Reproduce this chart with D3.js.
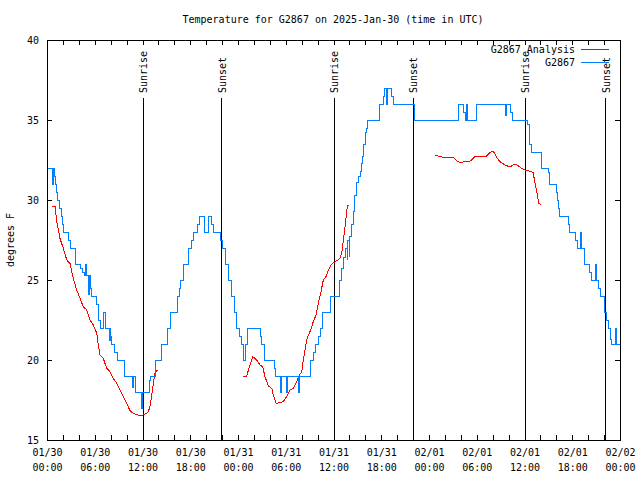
<!DOCTYPE html>
<html><head><meta charset="utf-8">
<script src="https://cdn.jsdelivr.net/npm/d3@7"></script>
<style>
html,body{margin:0;padding:0;background:#fff;}
svg{display:block;}
text{font-family:"DejaVu Sans Mono","Liberation Mono",monospace;font-size:10px;fill:#000;}
</style></head>
<body>
<svg id="chart" width="640" height="480"></svg>
<script>
// ---- data (hours since 2025-01-30 00:00 UTC, degrees F) ----
const titleText = "Temperature for G2867 on 2025-Jan-30 (time in UTC)";
const yLabelText = "degrees F";
const seriesNames = ["G2867 Analysis", "G2867"];
const yTicks = [15, 20, 25, 30, 35, 40];

const observed = [
 [0.16,32],[0.67,31],[0.79,32],[0.88,31.5],[1.07,31],[1.19,30.5],[1.32,30],[1.57,29.5],[1.76,29],[1.95,28.5],
 [2.05,28],[2.70,27.5],[2.89,27],[3.52,26.5],[3.64,26],[4.15,25.7],[4.40,25.5],[4.71,25.3],[4.84,26],[4.96,25.3],
 [5.19,24.1],[5.32,25.3],[5.49,24.5],[5.62,24],[6.25,23.5],[6.41,23],[6.53,22.5],[6.66,22],[7.07,23],[7.38,22],
 [7.83,21.2],[7.92,22],[8.04,21.5],[8.13,21],[8.54,20.5],[8.88,20],[9.80,19],[10.72,18.3],[10.89,19],[11.06,18],
 [11.90,17],[11.98,18],[12.86,18.7],[13.01,19],[13.63,20],[14.45,21],[15.20,22],[15.46,23],[16.40,24],[16.62,24.5],
 [16.80,25],[17.13,26],[17.72,26.5],[17.84,27],[18.16,27.5],[18.38,28],[18.97,28.5],[19.14,29],[19.85,28],[20.29,29],
 [20.67,28.5],[20.90,28],[21.74,27.5],[22.03,27],[22.46,26],[22.78,25],[23.21,24],[23.62,23],[23.84,22],[24.25,21.5],
 [24.47,21],[24.75,20],[24.88,21],[25.17,22],[26.85,21.5],[26.95,21],[27.27,20.5],[27.39,20],[28.53,19.5],[28.65,19],
 [29.37,18],[29.49,19],[30.12,18],[30.25,19],[31.58,18],[31.70,19],[33.05,19.7],[33.17,20],[33.46,20.5],[33.68,21],
 [34.09,21.5],[34.31,22],[34.64,23],[35.65,24],[36.73,25],[37.03,25.7],[37.23,26.4],[37.45,26.8],[37.57,27],[37.70,26.3],
 [37.82,27.5],[37.95,26.5],[38.07,27.7],[38.29,28.5],[38.49,29.3],[38.70,30.3],[38.92,31.1],[39.12,31.5],[39.33,31.8],[39.55,32.3],
 [39.65,32.7],[39.75,33.1],[39.83,33.5],[39.96,34.2],[40.09,34.5],[40.25,35],[41.84,36],[42.26,36.5],[42.47,37],[42.66,36],
 [42.79,37],[43.23,36.5],[43.52,36],[46.12,35.5],[46.24,35],[51.68,36],[52.31,35.5],[52.53,35],[52.71,36],[52.84,35],
 [54.00,36],[57.55,35.3],[57.74,36],[58.18,35.5],[58.43,35],[60.38,34.7],[60.57,34.3],[60.69,33.5],[60.91,33],[62.16,32],
 [62.96,31.7],[63.12,31],[63.96,30.5],[64.09,30],[64.25,29.5],[64.38,29],[65.53,28.5],[65.63,28],[66.47,27.5],[66.60,27],
 [67.07,28],[67.19,27],[67.52,26],[68.23,25.5],[68.36,25],[68.86,26],[69.08,25],[69.24,24.5],[69.58,24],[70.03,23],
 [70.33,22.5],[70.56,22],[70.75,21.3],[70.96,21],[71.38,22],[71.54,21],[72.0,21]
];

const analysis1 = [
 [0.67,29.58],[1.01,29.58],[1.22,28.65],[1.63,27.6],[2.05,26.98],[2.48,26.25],[2.89,26.04],[3.30,25.1],[3.73,24.38],[4.15,23.85],
 [4.56,23.33],[4.99,23.13],[5.40,22.5],[5.82,22.19],[6.25,21.67],[6.45,20.94],[6.66,20.3],[7.07,20.1],[7.50,19.48],[7.92,19.27],
 [8.33,18.85],[8.76,18.54],[9.17,18.13],[9.59,17.71],[10.02,17.29],[10.43,16.83],[10.84,16.67],[11.47,16.56],[12.10,16.56],[12.53,16.67],
 [12.75,16.8],[12.94,17.1],[13.16,17.8],[13.36,18.54],[13.57,19.17],[13.86,19.38]
];
const analysis2 = [
 [24.67,18.96],[25.09,19.0],[25.51,19.69],[25.85,20.21],[26.35,20.0],[26.77,19.69],[27.10,19.58],[27.39,18.96],[27.81,18.38],[28.24,18.23],
 [28.44,17.81],[28.78,17.29],[29.28,17.33],[29.69,17.4],[30.12,17.71],[30.54,18.13],[30.95,18.23],[31.38,18.65],[31.70,19.06],[32.01,19.27],
 [32.21,20.0],[32.42,20.63],[32.63,21.25],[32.84,21.56],[33.14,21.88],[33.46,22.4],[33.80,22.81],[34.09,23.54],[34.43,24.27],[34.72,25.0],
 [35.06,25.21],[35.35,25.63],[35.78,26.0],[36.40,26.2],[36.82,26.35],[37.03,26.67],[37.16,27.19],[37.32,27.8],[37.45,28.33],[37.57,28.85],
 [37.74,29.63],[37.99,29.69]
];
const analysis3 = [
 [48.76,32.81],[49.38,32.71],[49.80,32.67],[51.06,32.67],[51.48,32.46],[51.90,32.33],[52.53,32.4],[53.07,32.4],[53.37,32.5],[53.78,32.71],
 [55.16,32.71],[55.67,32.96],[56.01,33.06],[56.30,32.88],[56.58,32.6],[56.92,32.4],[57.55,32.19],[58.09,32.08],[58.39,32.13],[58.81,32.25],
 [59.22,32.13],[59.65,31.98],[60.07,31.88],[60.61,31.81],[61.11,31.71],[61.24,31.25],[61.41,30.83],[61.54,30.52],[61.66,30.17],[61.79,29.79],
 [62.08,29.73]
];

const sunriseHours = [12.1, 36.1, 60.1];
const sunsetHours = [21.93, 46.03, 70.2];

// ---- drawing ----
const W = 640, H = 480;
const m = {left: 47, right: 620, top: 40, bottom: 440};
const t0 = Date.UTC(2025, 0, 30);
const toDate = h => new Date(t0 + h * 3600e3);

const x = d3.scaleUtc().domain([toDate(0), toDate(72)]).range([m.left, m.right]);
const y = d3.scaleLinear().domain([15, 40]).range([m.bottom, m.top]);

const svg = d3.select("#chart");
svg.append("rect").attr("width", W).attr("height", H).attr("fill", "#fff");

// title
svg.append("text").attr("x", 333).attr("y", 23).attr("text-anchor", "middle").text(titleText);

// y label
svg.append("text").attr("transform", "translate(14,240) rotate(-90)").attr("text-anchor", "middle").text(yLabelText);

// axes
const fmtDay = d3.utcFormat("%m/%d"), fmtTime = d3.utcFormat("%H:%M");
const gx = svg.append("g").attr("transform", `translate(0,${m.bottom})`)
  .call(d3.axisBottom(x).ticks(d3.utcHour.every(2)).tickSizeInner(-5).tickSizeOuter(0).tickFormat(d => fmtDay(d)));
gx.select(".domain").remove();
gx.selectAll(".tick text").each(function(d) {
  const t = d3.select(this);
  if (d.getUTCHours() % 6 !== 0) { t.remove(); return; }
  t.text(null).attr("y", 0).attr("dy", null);
  t.append("tspan").attr("x", 0).attr("y", 16).text(fmtDay(d));
  t.append("tspan").attr("x", 0).attr("y", 31).text(fmtTime(d));
});
const gxt = svg.append("g").attr("transform", `translate(0,${m.top})`)
  .call(d3.axisTop(x).ticks(d3.utcHour.every(2)).tickSizeInner(-5).tickSizeOuter(0).tickFormat(""));
gxt.select(".domain").remove();

const gy = svg.append("g").attr("transform", `translate(${m.left},0)`)
  .call(d3.axisLeft(y).tickValues(yTicks).tickSizeInner(-5).tickSizeOuter(0).tickPadding(8).tickFormat(d3.format("d")));
gy.select(".domain").remove();
const gyr = svg.append("g").attr("transform", `translate(${m.right},0)`)
  .call(d3.axisRight(y).tickValues(yTicks).tickSizeInner(-5).tickSizeOuter(0).tickFormat(""));
gyr.select(".domain").remove();

svg.selectAll(".tick line").attr("stroke", "#000").attr("shape-rendering", "crispEdges");
svg.selectAll(".tick text").attr("fill", "#000").style("font-size", "10px")
  .style("font-family", "'DejaVu Sans Mono','Liberation Mono',monospace");

// frame
svg.append("rect").attr("x", m.left).attr("y", m.top)
  .attr("width", m.right - m.left).attr("height", m.bottom - m.top)
  .attr("fill", "none").attr("stroke", "#000").attr("shape-rendering", "crispEdges");

// sunrise / sunset markers
const sunEvents = sunriseHours.map(h => ({h, label: "Sunrise"}))
  .concat(sunsetHours.map(h => ({h, label: "Sunset"})));
sunEvents.forEach(e => {
  const px = x(toDate(e.h));
  svg.append("line").attr("x1", px).attr("x2", px).attr("y1", 98).attr("y2", m.bottom)
    .attr("stroke", "#000").attr("shape-rendering", "crispEdges");
  svg.append("text").attr("transform", `translate(${px + 4},93) rotate(-90)`)
    .attr("text-anchor", "start").text(e.label);
});

// series
const lineObs = d3.line().x(d => x(toDate(d[0]))).y(d => y(d[1])).curve(d3.curveStepAfter);
const lineAna = d3.line().x(d => x(toDate(d[0]))).y(d => y(d[1]));
const red = "#ff0000", blue = "#0080ff";

[analysis1, analysis2, analysis3].forEach(seg => {
  svg.append("path").datum(seg).attr("d", lineAna).attr("fill", "none")
    .attr("stroke", red).attr("stroke-width", 1).attr("shape-rendering", "crispEdges");
});
svg.append("path").datum(observed).attr("d", lineObs).attr("fill", "none")
  .attr("stroke", blue).attr("stroke-width", 1).attr("shape-rendering", "crispEdges");

// legend
const legendColors = [red, blue];
seriesNames.forEach((name, i) => {
  const ly = 49 + i * 13;
  svg.append("text").attr("x", 575).attr("y", ly + 4).attr("text-anchor", "end").text(name);
  svg.append("line").attr("x1", 581).attr("x2", 609).attr("y1", ly).attr("y2", ly)
    .attr("stroke", legendColors[i]).attr("shape-rendering", "crispEdges");
});
</script>
</body></html>
